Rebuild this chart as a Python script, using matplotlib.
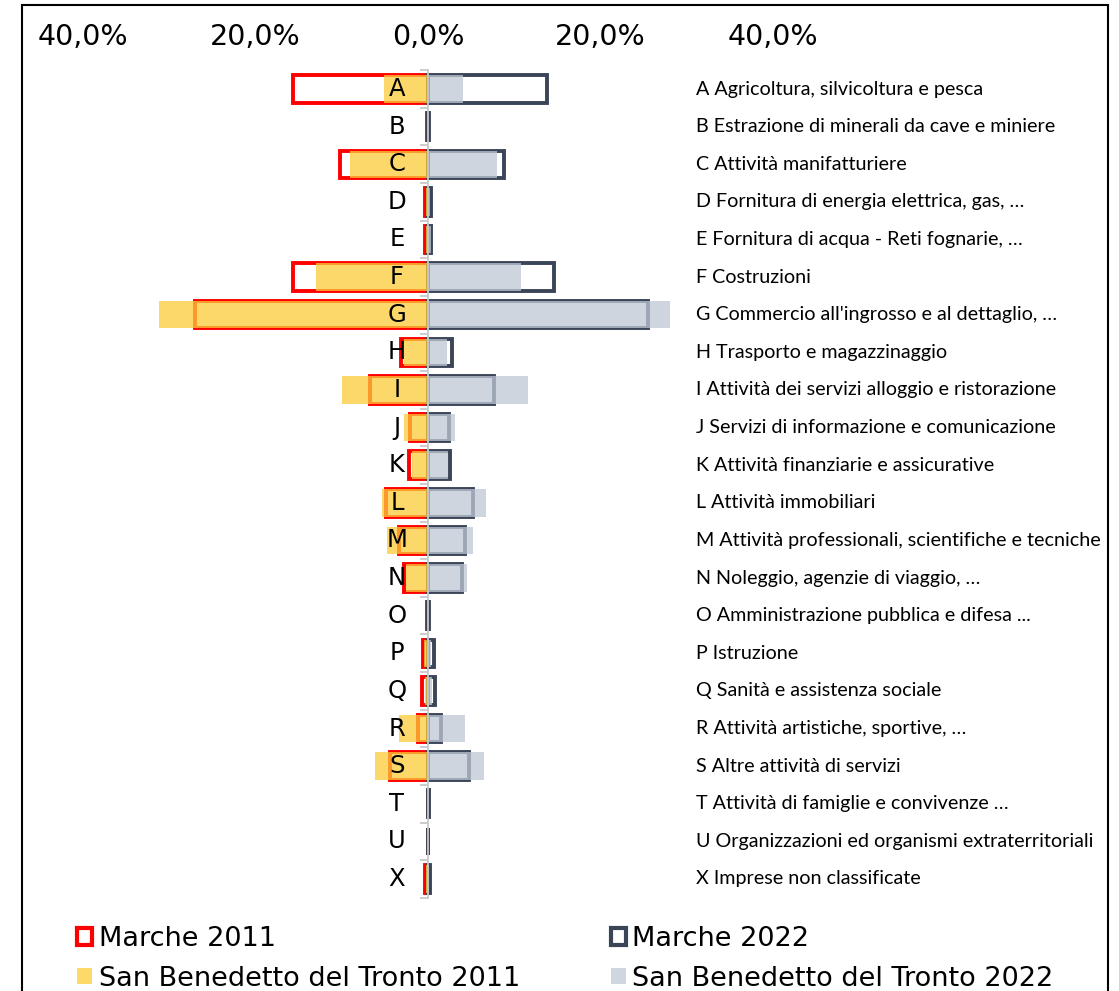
import numpy as np
import matplotlib
matplotlib.use("Agg")
import matplotlib.pyplot as plt
from matplotlib.patches import Patch, Rectangle
from matplotlib.ticker import FixedLocator, FuncFormatter

# sezioni ATECO
letters = ["A", "B", "C", "D", "E", "F", "G", "H", "I", "J", "K",
           "L", "M", "N", "O", "P", "Q", "R", "S", "T", "U", "X"]
descr = [
    "A Agricoltura, silvicoltura e pesca",
    "B Estrazione di minerali da cave e miniere",
    "C Attività manifatturiere",
    "D Fornitura di energia elettrica, gas, …",
    "E Fornitura di acqua - Reti fognarie, …",
    "F Costruzioni",
    "G Commercio all'ingrosso e al dettaglio, …",
    "H Trasporto e magazzinaggio",
    "I Attività dei servizi alloggio e ristorazione",
    "J Servizi di informazione e comunicazione",
    "K Attività finanziarie e assicurative",
    "L Attività immobiliari",
    "M Attività professionali, scientifiche e tecniche",
    "N Noleggio, agenzie di viaggio, …",
    "O Amministrazione pubblica e difesa ...",
    "P Istruzione",
    "Q Sanità e assistenza sociale",
    "R Attività artistiche, sportive, …",
    "S Altre attività di servizi",
    "T Attività di famiglie e convivenze …",
    "U Organizzazioni ed organismi extraterritoriali",
    "X Imprese non classificate",
]

# quote %
marche_2011 = [15.6, 0.1, 10.2, 0.3, 0.3, 15.7, 27.0, 3.1, 6.7, 2.1, 2.2,
               4.9, 3.4, 2.8, 0.1, 0.6, 0.7, 1.2, 4.35, 0.05, 0.02, 0.3]
sbt_2011 = [5.1, 0.05, 9.0, 0.2, 0.2, 13.0, 31.2, 2.8, 10.0, 2.8, 1.9,
            5.3, 4.7, 2.55, 0.05, 0.45, 0.35, 3.4, 6.1, 0.02, 0.0, 0.2]
marche_2022 = [13.8, 0.1, 8.8, 0.4, 0.4, 14.6, 25.5, 2.8, 7.7, 2.4, 2.55,
               5.2, 4.3, 3.9, 0.1, 0.65, 0.85, 1.45, 4.7, 0.1, 0.05, 0.2]
sbt_2022 = [4.1, 0.05, 8.0, 0.2, 0.3, 10.8, 28.1, 2.2, 11.6, 3.1, 2.3,
            6.7, 5.2, 4.5, 0.05, 0.3, 0.45, 4.25, 6.5, 0.02, 0.0, 0.1]

RED = "#ff0000"
NAVY = "#3b4558"
YELLOW = "#fccc38"
GREY = "#bfc8d5"
YELLOW_LEG = "#fdd96a"
GREY_LEG = "#cfd6df"

W, H = 1119, 991
fig = plt.figure(figsize=(W / 100, H / 100), dpi=100)

# 0% a x=428px, 20% = 172.5px ; righe da y=89 a y=879
x0, x1 = 83, 773
y_top, y_bot = 89 - 18.8, 879 + 18.8
ax = fig.add_axes([x0 / W, 1 - y_bot / H, (x1 - x0) / W, (y_bot - y_top) / H])

y = np.arange(len(letters))
h = 0.73

# contorni Marche
ax.barh(y, -np.array(marche_2011), height=h, facecolor="none", edgecolor=RED,
        linewidth=2.8, zorder=2)
ax.barh(y, marche_2022, height=h, facecolor="none", edgecolor=NAVY,
        linewidth=2.8, zorder=2)
# San Benedetto pieni (semi-trasparenti sopra i contorni)
ax.barh(y, -np.array(sbt_2011), height=h, color=YELLOW, alpha=0.75,
        linewidth=0, zorder=3)
ax.barh(y, sbt_2022, height=h, color=GREY, alpha=0.75, linewidth=0, zorder=3)

for i, (l, d) in enumerate(zip(letters, descr)):
    ax.text(-3.6, i, l, ha="center", va="center", fontsize=17.5, zorder=5)
    ax.text(31.07, i, d, ha="left", va="center", fontsize=14.2,
            family=["Lato", "DejaVu Sans"], clip_on=False)

ax.set_xlim(-40, 40)
ax.set_ylim(len(letters) - 0.5, -0.5)

ax.xaxis.tick_top()
ax.xaxis.set_major_locator(FixedLocator([-40, -20, 0, 20, 40]))
ax.xaxis.set_major_formatter(FuncFormatter(
    lambda v, p: ("%.1f%%" % abs(v)).replace(".", ",")))
ax.tick_params(axis="x", length=0, labelsize=20.5, pad=14)

for s in ["top", "right", "bottom"]:
    ax.spines[s].set_visible(False)
ax.spines["left"].set_position(("data", 0))
ax.spines["left"].set_color("#c8c8c8")
ax.spines["left"].set_linewidth(1.3)
ax.spines["left"].set_zorder(4)
ax.yaxis.set_major_locator(FixedLocator([]))
ax.yaxis.set_minor_locator(FixedLocator(np.arange(-0.5, len(letters), 1)))
ax.tick_params(axis="y", which="minor", length=6, color="#c8c8c8", width=1.3)

handles = [
    Patch(facecolor="white", edgecolor=RED, linewidth=3, label="Marche 2011"),
    Patch(facecolor=YELLOW_LEG, edgecolor="none", label="San Benedetto del Tronto 2011"),
    Patch(facecolor="white", edgecolor=NAVY, linewidth=3, label="Marche 2022"),
    Patch(facecolor=GREY_LEG, edgecolor="none", label="San Benedetto del Tronto 2022"),
]
fig.legend(handles=handles, ncol=2, loc="upper left",
           bbox_to_anchor=(77 / W, 1 - 926 / H), frameon=False, fontsize=19.5,
           handlelength=0.55, handleheight=0.55, handletextpad=0.25,
           columnspacing=3.35, labelspacing=0.5, borderaxespad=0, borderpad=0)

# cornice
fig.add_artist(Rectangle((22 / W, -0.05), (1108 - 22) / W, 1.05 - 5 / H,
                         transform=fig.transFigure, fill=False,
                         edgecolor="black", linewidth=1.5))

fig.savefig("out.png", dpi=100)
